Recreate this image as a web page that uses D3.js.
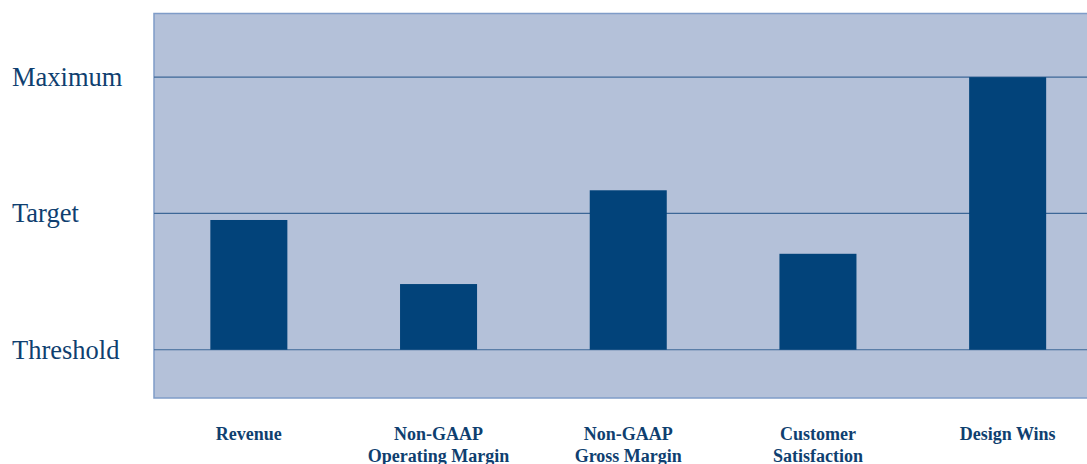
<!DOCTYPE html>
<html>
<head>
<meta charset="utf-8">
<script src="https://cdn.jsdelivr.net/npm/d3@7"></script>
<style>
  body { margin: 0; background: #fff; overflow: hidden; }
  text { font-family: "Liberation Serif", "Times New Roman", serif; fill: #0f3f70; }
</style>
</head>
<body>
<svg id="chart" width="1087" height="464"></svg>
<script>
// categories and performance levels (0 = threshold, 1 = target, 2 = maximum)
var categories = [["Revenue"], ["Non-GAAP", "Operating Margin"], ["Non-GAAP", "Gross Margin"], ["Customer", "Satisfaction"], ["Design Wins"]];
var values = [0.952, 0.482, 1.17, 0.704, 2.0];
var levelNames = ["Threshold", "Target", "Maximum"];
var levelValues = [0, 1, 2];

var svg = d3.select("#chart");

// plot box (right edge runs past the window, as in the original)
var plotLeft = 154, plotTop = 13.5, plotBottom = 398, plotRight = 1102.5;

var x = d3.scaleBand()
  .domain(d3.range(categories.length))
  .range([plotLeft, plotRight])
  .paddingInner(0.594)
  .paddingOuter(0.297);

var y = d3.scaleLinear()
  .domain([-0.354, 2.467])
  .range([plotBottom, plotTop]);

// plot background
svg.append("rect")
  .attr("x", plotLeft)
  .attr("y", plotTop)
  .attr("width", plotRight - plotLeft)
  .attr("height", plotBottom - plotTop)
  .attr("fill", "#b4c1d9")
  .attr("stroke", "#7f9cc8")
  .attr("stroke-width", 1.5);

// level lines
svg.selectAll(".grid")
  .data(levelValues)
  .enter().append("line")
    .attr("class", "grid")
    .attr("x1", plotLeft)
    .attr("x2", plotRight)
    .attr("y1", function(d) { return y(d); })
    .attr("y2", function(d) { return y(d); })
    .attr("stroke", "#3c6797")
    .attr("stroke-width", 1.2);

// level labels
svg.selectAll(".level")
  .data(levelValues)
  .enter().append("text")
    .attr("class", "level")
    .attr("x", 12)
    .attr("y", function(d) { return y(d) + 9; })
    .style("font-size", "26.5px")
    .text(function(d, i) { return levelNames[i]; });

// bars
svg.selectAll(".bar")
  .data(values)
  .enter().append("rect")
    .attr("class", "bar")
    .attr("x", function(d, i) { return x(i); })
    .attr("width", x.bandwidth())
    .attr("y", function(d) { return y(d); })
    .attr("height", function(d) { return y(0) - y(d); })
    .attr("fill", "#02437a");

// category labels (second line is clipped by the page edge, as in the original)
var labels = svg.selectAll(".cat")
  .data(categories)
  .enter().append("text")
    .attr("class", "cat")
    .attr("text-anchor", "middle")
    .style("font-size", "18px")
    .style("font-weight", "bold");

labels.selectAll("tspan")
  .data(function(d, i) { return d.map(function(s) { return {s: s, i: i}; }); })
  .enter().append("tspan")
    .attr("x", function(d) { return x(d.i) + x.bandwidth() / 2; })
    .attr("y", function(d, j) { return 440 + j * 22; })
    .text(function(d) { return d.s; });
</script>
</body>
</html>
